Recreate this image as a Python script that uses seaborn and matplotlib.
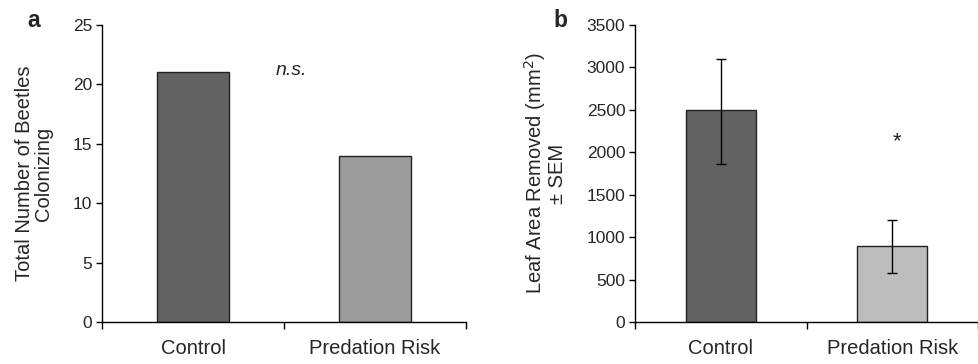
import numpy as np
import pandas as pd
import matplotlib
matplotlib.use("Agg")
import matplotlib.pyplot as plt
import seaborn as sns

# data
treatments = ["Control", "Predation Risk"]
beetles = [21, 14]
leaf_area = [2500, 900]
leaf_err_low = [635, 320]
leaf_err_high = [600, 300]
colors_a = ["#626262", "#9c9c9c"]
colors_b = ["#626262", "#bdbdbd"]

sns.set_style("ticks")
plt.rcParams["font.family"] = ["Liberation Sans", "DejaVu Sans"]

fig = plt.figure(figsize=(9.79, 3.64), dpi=100)
ax_a = fig.add_axes([0.1042, 0.1154, 0.3718, 0.816])
ax_b = fig.add_axes([0.6486, 0.1154, 0.3504, 0.816])

df_a = pd.DataFrame({"treatment": treatments, "value": beetles})
df_b = pd.DataFrame({"treatment": treatments, "value": leaf_area})

sns.barplot(data=df_a, x="treatment", y="value", hue="treatment",
            palette=colors_a, width=0.4, edgecolor="#222222", linewidth=1.0,
            errorbar=None, legend=False, ax=ax_a)
sns.barplot(data=df_b, x="treatment", y="value", hue="treatment",
            palette=colors_b, width=0.41, edgecolor="#222222", linewidth=1.0,
            errorbar=None, legend=False, ax=ax_b)
ax_b.errorbar(np.arange(len(treatments)), leaf_area,
              yerr=[leaf_err_low, leaf_err_high], fmt="none",
              ecolor="black", elinewidth=1.0, capsize=3.5, capthick=1.0)


def style_axis(ax, ymax, step):
    ax.set_xlim(-0.5, 1.5)
    ax.set_ylim(0, ymax)
    ax.set_yticks(np.arange(0, ymax + step, step))
    ax.tick_params(axis="y", labelsize=12.5, length=4, width=1,
                   direction="out", color="black", pad=3)
    # category labels without ticks, divider ticks at category edges
    ax.set_xticks([0, 1])
    ax.set_xticklabels(treatments, fontsize=14.5)
    ax.tick_params(axis="x", which="major", length=0, pad=12)
    ax.set_xticks([-0.5, 0.5, 1.5], minor=True)
    ax.tick_params(axis="x", which="minor", length=5, width=1,
                   direction="out", color="black")
    ax.set_xlabel("")
    for side in ["top", "right"]:
        ax.spines[side].set_visible(False)
    for side in ["left", "bottom"]:
        ax.spines[side].set_color("black")
        ax.spines[side].set_linewidth(1.0)


style_axis(ax_a, 25, 5)
style_axis(ax_b, 3500, 500)

ax_a.set_ylabel("Total Number of Beetles\nColonizing", fontsize=14.5,
                linespacing=1.0, labelpad=14)
ax_b.set_ylabel("Leaf Area Removed (mm$^2$)\n\u00b1 SEM", fontsize=14.5,
                linespacing=1.0, labelpad=14)

ax_a.text(0.54, 21.2, "n.s.", fontsize=14, style="italic",
          ha="center", va="center")
ax_b.text(1.03, 2120, "*", fontsize=16, ha="center", va="center")

fig.text(0.034, 0.925, "a", fontsize=16.5, fontweight="bold",
         ha="center", va="baseline")
fig.text(0.572, 0.925, "b", fontsize=16.5, fontweight="bold",
         ha="center", va="baseline")

fig.savefig("out.png", dpi=100)
